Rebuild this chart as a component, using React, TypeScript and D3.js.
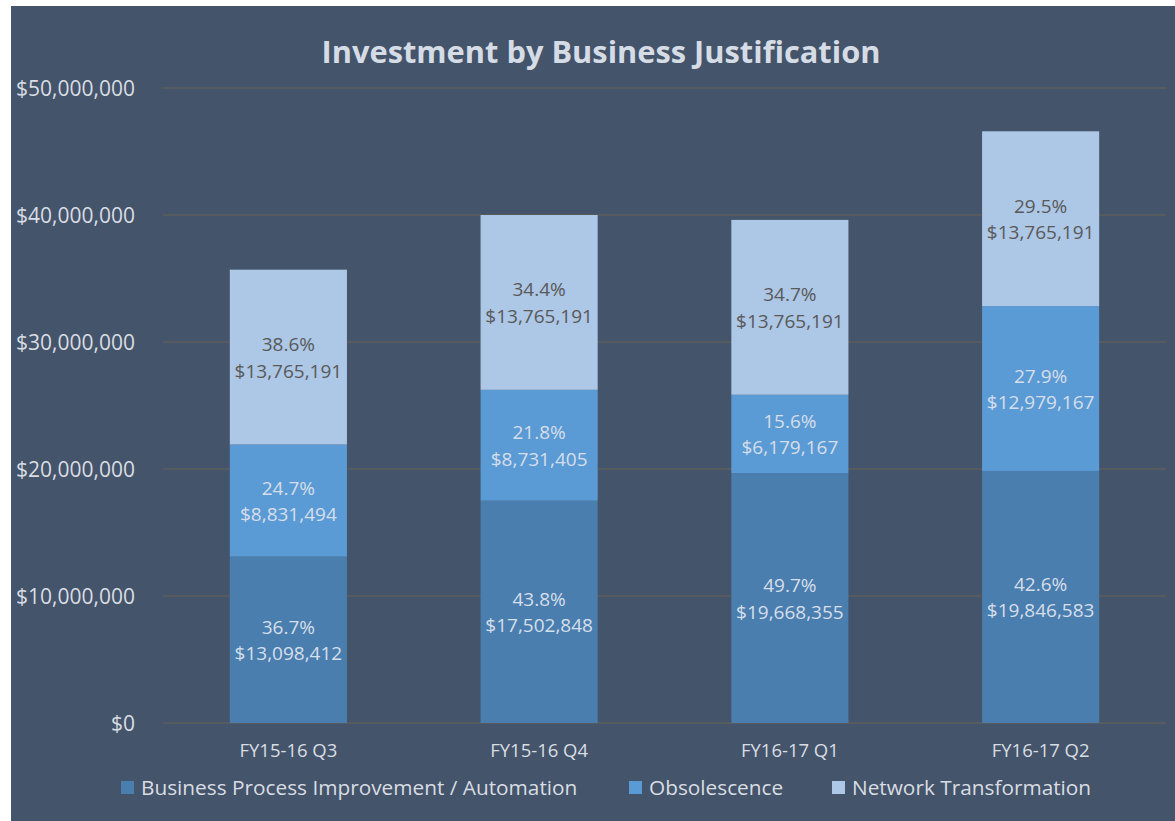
import React from "react";
import * as d3 from "d3";

const categories = ["FY15-16 Q3", "FY15-16 Q4", "FY16-17 Q1", "FY16-17 Q2"];
const seriesNames = ["Business Process Improvement / Automation", "Obsolescence", "Network Transformation"];
const bpi = [13098412, 17502848, 19668355, 19846583];
const obsolescence = [8831494, 8731405, 6179167, 12979167];
const network = [13765191, 13765191, 13765191, 13765191];
const yTicks = [0, 10000000, 20000000, 30000000, 40000000, 50000000];

const colors = ["#4A7EAF", "#5B9BD5", "#ADC7E6"];
const labelColors = ["#D6DEEA", "#D6DEEA", "#595959"];

const W = 1175;
const H = 821;
const FONT = "'Open Sans', 'Noto Sans', sans-serif";

export default function App() {
  const x = d3.scaleBand<string>().domain(categories).range([163, 1166]).paddingInner(0.533).paddingOuter(0.2665);
  const y = d3.scaleLinear().domain([0, 50000000]).range([723, 88]);
  const fmt = d3.format("$,.0f");
  const pct = d3.format(".1%");

  const rows = categories.map((c, i) => ({ cat: c, s0: bpi[i], s1: obsolescence[i], s2: network[i] }));
  const stack = d3.stack<any>().keys(["s0", "s1", "s2"])(rows);

  const legendX = [121, 629, 832];

  return (
    <div style={{ position: "fixed", left: 0, top: 0 }}>
      <svg width={W} height={H} style={{ display: "block" }}>
        <rect x={0} y={0} width={W} height={H} fill="#ffffff" />
        <rect x={11} y={6} width={W - 11} height={H - 6} fill="#44546A" />
        <text x={601} y={51} textAnchor="middle" dominantBaseline="central" fill="#D6DCE5" fontFamily={FONT} fontWeight="bold" fontSize={30.8}>
          Investment by Business Justification
        </text>
        {yTicks.map((t) => (
          <g key={t}>
            <line x1={163} x2={1166} y1={y(t)} y2={y(t)} stroke="#5E5E5E" strokeWidth={1.3} />
            <text x={135} y={y(t)} textAnchor="end" dominantBaseline="central" fill="#D9DDE3" fontFamily={FONT} fontSize={21}>
              {fmt(t)}
            </text>
          </g>
        ))}
        {stack.map((layer, si) => (
          <g key={si}>
            {layer.map((d, i) => {
              const total = bpi[i] + obsolescence[i] + network[i];
              const v = d[1] - d[0];
              const y0 = y(d[0]);
              const y1 = y(d[1]);
              const cx = (x(categories[i]) as number) + x.bandwidth() / 2;
              const cy = (y0 + y1) / 2;
              return (
                <g key={i}>
                  <rect x={x(categories[i])} y={y1} width={x.bandwidth()} height={y0 - y1} fill={colors[si]} />
                  <text x={cx} y={cy - 13} textAnchor="middle" dominantBaseline="central" fill={labelColors[si]} fontFamily={FONT} fontSize={19}>
                    {pct(v / total)}
                  </text>
                  <text x={cx} y={cy + 13.5} textAnchor="middle" dominantBaseline="central" fill={labelColors[si]} fontFamily={FONT} fontSize={19}>
                    {fmt(v)}
                  </text>
                </g>
              );
            })}
          </g>
        ))}
        {categories.map((c) => (
          <text key={c} x={(x(c) as number) + x.bandwidth() / 2} y={749} textAnchor="middle" dominantBaseline="central" fill="#D9DDE3" fontFamily={FONT} fontSize={18.5}>
            {c}
          </text>
        ))}
        {seriesNames.map((n, i) => (
          <g key={n}>
            <rect x={legendX[i]} y={781} width={13} height={13} fill={colors[i]} />
            <text x={legendX[i] + 20} y={787} dominantBaseline="central" fill="#D9DDE3" fontFamily={FONT} fontSize={20.8}>
              {n}
            </text>
          </g>
        ))}
      </svg>
    </div>
  );
}
